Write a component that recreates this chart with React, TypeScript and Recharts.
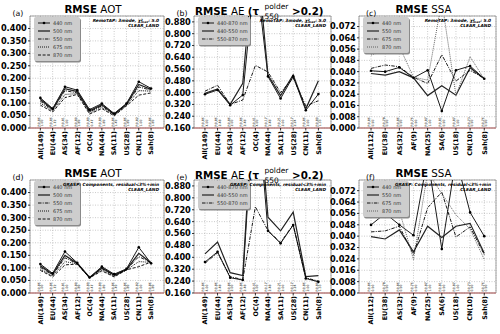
import React from 'react';
import { LineChart, Line, XAxis, YAxis, CartesianGrid, ReferenceArea } from 'recharts';

const W = 500;
const H = 334;
const FONT = '"DejaVu Sans", Verdana, sans-serif';

// site groups
const sitesAot = ['All(149)', 'EU(44)', 'AS(34)', 'AF(12)', 'OC(4)', 'NA(44)', 'SA(11)', 'US(28)', 'CN(11)', 'Sah(8)'];
const sitesSsa = ['All(112)', 'EU(38)', 'AS(32)', 'AF(9)', 'NA(25)', 'SA(6)', 'US(18)', 'CN(10)', 'Sah(8)'];

// tiny rotated notes above each tick
const notesAot = [['R0.86', '1.00'], ['R0.86', '1.72'], ['R0.81', '1.00'], ['R0.80', '1.89'], ['R0.89', '0.47'], ['R0.89', '1.89'], ['R0.86', '1.49'], ['R0.86', '1.89'], ['R0.82', '1.00'], ['R0.86', '1.89']];
const notesAe = [['R0.86', '4.00'], ['R0.86', '2.48'], ['R0.86', '2.00'], ['R0.86', '2.48'], ['R0.41', '4.00'], ['R0.17', '2.48'], ['R0.21', '2.00'], ['R0.17', '2.24'], ['R0.86', '2.00'], ['R0.80', '1.33']];
const notesSsa = [['R0.86', '0.90'], ['R0.78', '0.90'], ['R0.86', '0.90'], ['R0.76', '0.90'], ['R0.87', '1.00'], ['R0.81', '0.90'], ['R0.87', '1.00'], ['R0.73', '0.90'], ['R0.76', '0.90']];

const aotTicks = [0, 0.05, 0.1, 0.15, 0.2, 0.25, 0.3, 0.35, 0.4];
const aeTicks = [0.16, 0.24, 0.32, 0.4, 0.48, 0.56, 0.64, 0.72, 0.8, 0.88];
const ssaTicks = [0, 0.008, 0.016, 0.024, 0.032, 0.04, 0.048, 0.056, 0.064, 0.072];

// (a) RemoTAP AOT
const remoAot440 = [0.121, 0.078, 0.166, 0.152, 0.074, 0.098, 0.058, 0.098, 0.186, 0.159];
const remoAot500 = [0.115, 0.075, 0.158, 0.146, 0.069, 0.093, 0.056, 0.096, 0.175, 0.155];
const remoAot550 = [0.108, 0.072, 0.15, 0.141, 0.065, 0.089, 0.054, 0.094, 0.165, 0.152];
const remoAot675 = [0.1, 0.068, 0.135, 0.138, 0.06, 0.083, 0.051, 0.091, 0.15, 0.148];
const remoAot870 = [0.092, 0.064, 0.122, 0.135, 0.056, 0.078, 0.049, 0.089, 0.132, 0.141];

// (b) RemoTAP AE
const remoAe440870 = [0.389, 0.418, 0.315, 0.384, 1.25, 0.51, 0.36, 0.51, 0.28, 0.39];
const remoAe440550 = [0.395, 0.425, 0.32, 0.464, 1.45, 0.52, 0.38, 0.52, 0.29, 0.48];
const remoAe550870 = [0.41, 0.45, 0.32, 0.35, 0.585, 0.54, 0.4, 0.5, 0.31, 0.345];

// (c) RemoTAP SSA
const remoSsa440 = [0.0406, 0.04, 0.043, 0.0356, 0.041, 0.012, 0.041, 0.044, 0.035];
const remoSsa550 = [0.0387, 0.0375, 0.04, 0.0356, 0.023, 0.03, 0.0233, 0.0428, 0.035];
const remoSsa675 = [0.0423, 0.0447, 0.0435, 0.036, 0.0316, 0.052, 0.0333, 0.041, 0.0352];
const remoSsa870 = [0.0518, 0.055, 0.058, 0.036, 0.034, 0.09, 0.023, 0.0506, 0.0347];

// (d) GRASP AOT
const graspAot440 = [0.115, 0.078, 0.165, 0.12, 0.062, 0.105, 0.075, 0.096, 0.182, 0.118];
const graspAot500 = [0.108, 0.075, 0.15, 0.118, 0.062, 0.1, 0.072, 0.094, 0.158, 0.12];
const graspAot550 = [0.102, 0.072, 0.14, 0.117, 0.061, 0.097, 0.07, 0.093, 0.145, 0.121];
const graspAot675 = [0.095, 0.068, 0.125, 0.116, 0.06, 0.092, 0.066, 0.092, 0.125, 0.122];
const graspAot870 = [0.09, 0.064, 0.112, 0.115, 0.06, 0.088, 0.064, 0.092, 0.105, 0.123];

// (e) GRASP AE
const graspAe440870 = [0.368, 0.437, 0.263, 0.247, 1.6, 0.578, 0.494, 0.617, 0.258, 0.235];
const graspAe440550 = [0.423, 0.503, 0.297, 0.277, 1.7, 0.67, 0.578, 0.704, 0.27, 0.277];
const graspAe550870 = [0.36, 0.43, 0.27, 0.25, 0.74, 0.58, 0.5, 0.62, 0.262, 0.24];

// (f) GRASP SSA
const graspSsa440 = [0.0479, 0.056, 0.048, 0.0406, 0.095, 0.031, 0.095, 0.0567, 0.04];
const graspSsa550 = [0.0397, 0.038, 0.0444, 0.029, 0.047, 0.039, 0.047, 0.049, 0.028];
const graspSsa675 = [0.043, 0.0437, 0.047, 0.027, 0.06, 0.071, 0.0394, 0.0465, 0.027];
const graspSsa870 = [0.053, 0.057, 0.058, 0.0236, 0.085, 0.07, 0.055, 0.045, 0.0236];

const aotSeries = (v440, v500, v550, v675, v870) => [
  { key: 's440', label: '440 nm', values: v440, width: 0.9, dot: true, color: '#000' },
  { key: 's500', label: '500 nm', values: v500, width: 1.3, color: '#222' },
  { key: 's550', label: '550 nm', values: v550, width: 0.9, dash: '3.5 1.2 1 1.2', color: '#000' },
  { key: 's675', label: '675 nm', values: v675, width: 0.9, dash: '1 1', color: '#000' },
  { key: 's870', label: '870 nm', values: v870, width: 0.9, dash: '3 1.6', color: '#000' },
];
const aeSeries = (a, b, c) => [
  { key: 's1', label: '440-870 nm', values: a, width: 0.9, dot: true, color: '#000' },
  { key: 's2', label: '440-550 nm', values: b, width: 1.2, color: '#222' },
  { key: 's3', label: '550-870 nm', values: c, width: 0.9, dash: '3.5 1.2 1 1.2', color: '#000' },
];
const ssaSeries = (v440, v550, v675, v870) => [
  { key: 's440', label: '440 nm', values: v440, width: 0.9, dot: true, color: '#000' },
  { key: 's550', label: '550 nm', values: v550, width: 1.2, color: '#222' },
  { key: 's675', label: '675 nm', values: v675, width: 0.9, dash: '3.5 1.2 1 1.2', color: '#000' },
  { key: 's870', label: '870 nm', values: v870, width: 0.9, dash: '1 1', color: '#555' },
];

const row1 = { t: 16, b: 128 };
const row2 = { t: 180, b: 293 };
const colA = { l: 30, r: 164 };
const colB = { l: 194, r: 331 };
const colC = { l: 359, r: 496 };

const panels = [
  { id: 'a', kind: 'aot', remo: true, box: { ...colA, ...row1 }, xDom: [-0.84, 10.05], yDom: [0, 0.45], yTicks: aotTicks, cats: sitesAot, notes: notesAot, legendW: 46,
    series: aotSeries(remoAot440, remoAot500, remoAot550, remoAot675, remoAot870) },
  { id: 'b', kind: 'ae', remo: true, box: { ...colB, ...row1 }, xDom: [-0.87, 10.0], yDom: [0.16, 0.92], yTicks: aeTicks, cats: sitesAot, notes: notesAe, legendW: 52,
    series: aeSeries(remoAe440870, remoAe440550, remoAe550870) },
  { id: 'c', kind: 'ssa', remo: true, box: { ...colC, ...row1 }, xDom: [-0.85, 8.83], yDom: [0, 0.0795], yTicks: ssaTicks, cats: sitesSsa, notes: notesSsa, legendW: 46,
    series: ssaSeries(remoSsa440, remoSsa550, remoSsa675, remoSsa870) },
  { id: 'd', kind: 'aot', remo: false, box: { ...colA, ...row2 }, xDom: [-0.84, 10.05], yDom: [0, 0.45], yTicks: aotTicks, cats: sitesAot, notes: notesAot, legendW: 46,
    series: aotSeries(graspAot440, graspAot500, graspAot550, graspAot675, graspAot870) },
  { id: 'e', kind: 'ae', remo: false, box: { ...colB, ...row2 }, xDom: [-0.87, 10.0], yDom: [0.16, 0.92], yTicks: aeTicks, cats: sitesAot, notes: notesAe, legendW: 52,
    series: aeSeries(graspAe440870, graspAe440550, graspAe550870) },
  { id: 'f', kind: 'ssa', remo: false, box: { ...colC, ...row2 }, xDom: [-0.85, 8.83], yDom: [0, 0.0795], yTicks: ssaTicks, cats: sitesSsa, notes: notesSsa, legendW: 46,
    series: ssaSeries(graspSsa440, graspSsa550, graspSsa675, graspSsa870) },
];

const makeTick = (cats, notes, bottom) => (props) => {
  const { x, payload } = props;
  const i = payload.value;
  const note = notes[i] || ['', ''];
  return (
    <g>
      <text transform={`translate(${x},${bottom + 3}) rotate(-90)`} textAnchor="end" dy="0.36em"
        fontSize={6.4} fontWeight="bold" fontFamily={FONT} fill="#000">{cats[i]}</text>
      <text transform={`translate(${x - 1.7},${bottom - 1.5}) rotate(-90)`} dy="0.35em"
        fontSize={3.2} fontFamily={FONT} fill="#222">{note[0]}</text>
      <text transform={`translate(${x + 1.9},${bottom - 1.5}) rotate(-90)`} dy="0.35em"
        fontSize={3.2} fontFamily={FONT} fill="#222">{note[1]}</text>
    </g>
  );
};

function Panel({ p }) {
  const { box, xDom, yDom, yTicks, cats, notes, series } = p;
  const rows = cats.map((c, i) => {
    const r = { i };
    series.forEach((s) => { r[s.key] = s.values[i]; });
    return r;
  });
  return (
    <div style={{ position: 'absolute', left: 0, top: 0 }}>
      <LineChart width={W} height={H} data={rows}
        margin={{ top: box.t, left: box.l - 28, right: W - box.r, bottom: H - box.b - 40 }}>
        <ReferenceArea x1={xDom[0]} x2={xDom[1]} y1={yDom[0]} y2={yDom[1]} fill="none"
          stroke="#8c8c8c" strokeWidth={0.8} ifOverflow="visible" />
        <CartesianGrid stroke="#a8a8a8" strokeDasharray="1 1.5" strokeWidth={0.6} />
        <XAxis type="number" dataKey="i" domain={xDom} ticks={cats.map((_, i) => i)} allowDataOverflow
          interval={0} height={40} tickSize={2.5} tickMargin={1}
          axisLine={{ stroke: '#c46a6a', strokeWidth: 1 }} tickLine={{ stroke: '#000', strokeWidth: 0.8 }}
          tick={makeTick(cats, notes, box.b)} />
        <YAxis type="number" domain={yDom} ticks={yTicks} allowDataOverflow width={28} interval={0}
          tickSize={2} tickMargin={1.2} axisLine={false} tickLine={{ stroke: '#000', strokeWidth: 0.8 }}
          tick={{ fontSize: 8.2, fontWeight: 'bold', fill: '#000', fontFamily: FONT }}
          tickFormatter={(v) => v.toFixed(3)} />
        {series.map((s) => (
          <Line key={s.key} type="linear" dataKey={s.key} stroke={s.color} strokeWidth={s.width}
            strokeDasharray={s.dash}
            dot={s.dot ? { r: 1.3, fill: '#000', stroke: '#000', strokeWidth: 0 } : false}
            activeDot={false} isAnimationActive={false} />
        ))}
      </LineChart>
    </div>
  );
}

function LegendBox({ p }) {
  return (
    <div style={{ position: 'absolute', left: p.box.l + 4, top: p.box.t + 0.5, width: p.legendW, padding: '2px 0',
      background: '#cdcdcd', borderRadius: 2, boxShadow: '1px 1.5px 0 #8a8a8a' }}>
      {p.series.map((s) => (
        <div key={s.key} style={{ display: 'flex', alignItems: 'center', height: 8 }}>
          <svg width={17} height={8} style={{ flex: 'none' }}>
            <line x1={4} x2={16} y1={4} y2={4} stroke={s.color} strokeWidth={s.width} strokeDasharray={s.dash} />
            {s.dot && <circle cx={10} cy={4} r={1.3} fill="#000" />}
          </svg>
          <span style={{ fontFamily: FONT, fontSize: 5, color: '#333', marginLeft: 2, whiteSpace: 'nowrap', lineHeight: '8px' }}>
            {s.label}
          </span>
        </div>
      ))}
    </div>
  );
}

function Titles({ p }) {
  const { box } = p;
  const dy = box.t - 16;
  const lx = p.id === 'c' || p.id === 'f' ? 366 : box.l - 17.5;
  const cx = (box.l + box.r) / 2 - 4;
  const ax = box.r - 5;
  return (
    <g fontFamily={FONT}>
      <text x={lx} y={15.5 + dy} fontSize={7.8} fill="#000">({p.id})</text>
      {p.kind === 'ae' ? (
        <g>
          <text x={195} y={14.5 + dy} fontSize={10.3} fill="#000">
            <tspan fontWeight="bold">RMSE</tspan>
            <tspan> AE </tspan>
            <tspan fontWeight="bold">(τ</tspan>
          </text>
          <text x={264.5} y={8.5 + dy} fontSize={7.5} fill="#000">polder</text>
          <text x={264.5} y={18.5 + dy} fontSize={7.5} fill="#000">550</text>
          <text x={292} y={14.5 + dy} fontSize={10.3} fontWeight="bold" fill="#000">&gt;0.2)</text>
        </g>
      ) : (
        <text x={cx} y={13 + dy} fontSize={10.3} textAnchor="middle" fill="#000">
          <tspan fontWeight="bold">RMSE</tspan>
          <tspan> {p.kind === 'aot' ? 'AOT' : 'SSA'}</tspan>
        </text>
      )}
      <text x={ax} y={box.t + 6} fontSize={4.3} fontWeight="bold" fontStyle="italic" textAnchor="end" fill="#000">
        {p.remo ? (
          <>
            <tspan>RemoTAP: 3mode, χ</tspan>
            <tspan dy={-1.3} fontSize={3}>2</tspan>
            <tspan dx={-1.7} dy={2.4} fontSize={3}>max</tspan>
            <tspan dy={-1.1}>: 5.0</tspan>
          </>
        ) : (
          <tspan>GRASP: Components, residual&lt;3%+min</tspan>
        )}
      </text>
      <text x={ax} y={box.t + 11} fontSize={4.3} fontWeight="bold" fontStyle="italic" textAnchor="end" fill="#000">CLEAR_LAND</text>
    </g>
  );
}

export default function App() {
  return (
    <div style={{ position: 'absolute', left: 0, top: 0, width: W, height: H, background: '#fff', overflow: 'hidden' }}>
      {panels.map((p) => <Panel key={p.id} p={p} />)}
      {panels.map((p) => <LegendBox key={'lg' + p.id} p={p} />)}
      <svg width={W} height={H} style={{ position: 'absolute', left: 0, top: 0, pointerEvents: 'none' }}>
        {panels.map((p) => <Titles key={'t' + p.id} p={p} />)}
      </svg>
    </div>
  );
}
